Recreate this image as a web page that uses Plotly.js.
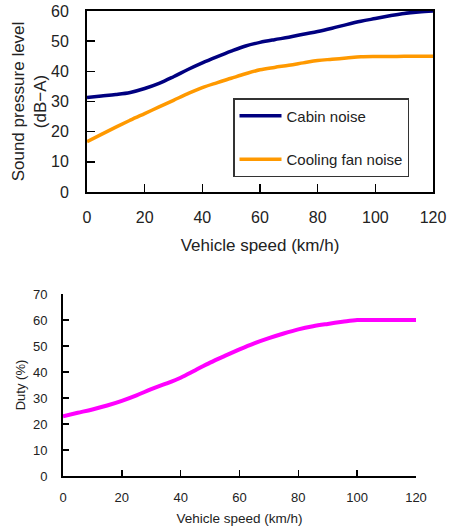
<!DOCTYPE html>
<html><head><meta charset="utf-8">
<script src="https://cdn.plot.ly/plotly-3.0.1.min.js"></script>
<style>html,body{margin:0;padding:0;background:#fff}#chart{width:450px;height:531px}</style>
</head><body><div id="chart"></div>
<script>
const speed = [0,5,10,15,20,25,30,35,40,45,50,55,60,65,70,75,80,85,90,95,100,105,110,115,120];
const cabinNoise = [31.3,31.8,32.3,33.0,34.3,36.0,38.2,40.6,42.8,44.8,46.7,48.4,49.6,50.5,51.3,52.3,53.2,54.3,55.5,56.6,57.5,58.4,59.2,59.7,60.0];
const fanNoise = [16.7,19.1,21.5,23.8,26.0,28.2,30.4,32.6,34.6,36.2,37.7,39.2,40.5,41.3,42.0,42.8,43.6,44.0,44.4,44.8,44.9,44.9,45.0,45.0,45.0];
const duty = [23.0,24.3,25.6,27.1,28.9,31.0,33.4,35.5,37.8,40.7,43.6,46.2,48.7,51.0,53.0,54.8,56.4,57.6,58.5,59.3,60.0,60.0,60.0,60.0,60.0];
const seriesNames = ["Cabin noise","Cooling fan noise"];
const xTicks = [0,20,40,60,80,100,120];

const fontFam = "Liberation Sans, Arial, sans-serif";
const txt = "#222";

const traces = [
  {x: speed, y: cabinNoise, name: seriesNames[0], type: "scatter", mode: "lines", line: {color: "#000080", width: 3.5, shape: "spline"}, xaxis: "x", yaxis: "y", legendgroup: "a"},
  {x: speed, y: fanNoise, name: seriesNames[1], type: "scatter", mode: "lines", line: {color: "#FF9900", width: 3.5, shape: "spline"}, xaxis: "x", yaxis: "y", legendgroup: "b"},
  {x: speed, y: duty, name: "Duty", type: "scatter", mode: "lines", line: {color: "#FF00FF", width: 4, shape: "spline"}, xaxis: "x2", yaxis: "y2", showlegend: false}
];

const layout = {
  width: 450, height: 531,
  margin: {l: 0, r: 0, t: 0, b: 0},
  paper_bgcolor: "#fff", plot_bgcolor: "#fff",
  font: {family: fontFam, color: txt},
  showlegend: true,
  legend: {x: 233/450, y: 1 - 98/531, xanchor: "left", yanchor: "top",
    bgcolor: "#fff", bordercolor: "#333", borderwidth: 1.5,
    font: {size: 15, color: txt, family: fontFam}, tracegroupgap: 21, itemwidth: 42},
  xaxis: {domain: [87/450, 433/450], range: [0, 120], tickvals: xTicks, ticks: "inside", ticklen: 8,
    tickwidth: 1.5, tickcolor: "#000", showline: true, mirror: true, linecolor: "#000", linewidth: 2,
    showgrid: false, zeroline: false, tickfont: {size: 16}, ticklabelstandoff: 10,
    title: {text: "Vehicle speed (km/h)", font: {size: 17}, standoff: 14}, anchor: "y"},
  yaxis: {domain: [1 - 192/531, 1 - 11/531], range: [0, 60], dtick: 10, ticks: "inside", ticklen: 8,
    tickwidth: 1.5, tickcolor: "#000", showline: true, mirror: true, linecolor: "#000", linewidth: 2,
    showgrid: false, zeroline: false, tickfont: {size: 16}, ticklabelstandoff: 13,
    title: {text: "Sound pressure level<br>(dB\u2212A)", font: {size: 17}, standoff: 0}, anchor: "x"},
  xaxis2: {domain: [63/450, 416/450], range: [0, 120], tickvals: xTicks, ticks: "inside", ticklen: 6,
    tickwidth: 1.5, tickcolor: "#000", showline: true, linecolor: "#000", linewidth: 2,
    showgrid: false, zeroline: false, tickfont: {size: 13}, ticklabelstandoff: 8,
    title: {text: "Vehicle speed (km/h)", font: {size: 13.5}, standoff: 10}, anchor: "y2"},
  yaxis2: {domain: [1 - 476/531, 1 - 294/531], range: [0, 70], dtick: 10, ticks: "inside", ticklen: 6,
    tickwidth: 1.5, tickcolor: "#000", showline: true, linecolor: "#000", linewidth: 2,
    showgrid: false, zeroline: false, tickfont: {size: 13}, ticklabelstandoff: 11,
    title: {text: "Duty (%)", font: {size: 13}, standoff: 4}, anchor: "x2"},
  xaxis3: {overlaying: "x2", side: "top", range: [0, 120], showline: true, linecolor: "#888", linewidth: 1.5,
    showticklabels: false, ticks: "", showgrid: false, zeroline: false, anchor: "y2"},
  yaxis3: {overlaying: "y2", side: "right", range: [0, 70], showline: true, linecolor: "#888", linewidth: 1.5,
    showticklabels: false, ticks: "", showgrid: false, zeroline: false, anchor: "x2"}
};

Plotly.newPlot("chart", traces, layout, {displayModeBar: false, staticPlot: true});
</script>
</body></html>
